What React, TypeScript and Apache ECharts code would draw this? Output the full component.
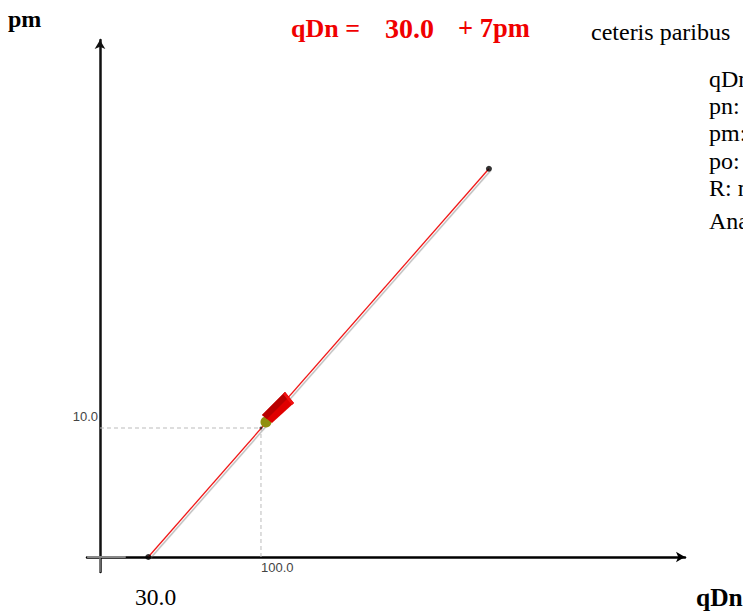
import React, { useEffect, useRef } from "react";
import * as echarts from "echarts";

const demandLine: number[][] = [[30, 0], [241.6, 30.1]];
const endPoints: number[][] = [[30, 0], [241.6, 30.1]];
const tipPoint: number[][] = [[100, 10]];
const guideH: number[][] = [[0, 10], [100, 10]];
const guideV: number[][] = [[100, 0], [100, 10]];
const markerPoint: number[][] = [[100, 10]];
const xTicks = [100];
const yTicks = [10];
const stubX: number[][] = [[-8, 0], [16, 0]];
const stubY: number[][] = [[0, -1.16], [0, 0]];
const sideLabels = ["qDn:", "pn:", "pm:", "po:", "R: n"];
const SERIF = "'Liberation Serif', serif";
const SANS = "'Liberation Sans', sans-serif";

const txt = (x: number, y: number, text: string, size: number, fill: string, weight = "normal") => ({
  type: "text", x, y,
  style: { text, fontFamily: SERIF, fontSize: size, fontWeight: weight, fill, textVerticalAlign: "middle" },
});

export default function App() {
  const ref = useRef<HTMLDivElement>(null);
  useEffect(() => {
    const chart = echarts.init(ref.current!, undefined, { renderer: "svg" });
    const thin = { color: "#888", width: 1.5 };
    const dash = { color: "#bbb", width: 1, type: [4, 3] as number[] };
    const plain = { symbol: "none", silent: true, z: 3 };
    chart.setOption({
      animation: false,
      backgroundColor: "#fff",
      grid: { left: 87, right: 58, top: 40, bottom: 39 },
      xAxis: {
        type: "value", min: -8.07, max: 363.4, splitLine: { show: false },
        axisLine: { onZero: true, symbol: ["none", "arrow"], symbolSize: [8, 9], lineStyle: { color: "#000", width: 2.5 } },
        axisTick: { show: false },
        axisLabel: {
          customValues: xTicks, formatter: (v: number) => v.toFixed(1),
          fontFamily: SANS, fontSize: 13, color: "#444", margin: -11, align: "left",
        },
      },
      yAxis: {
        type: "value", min: -1.163, max: 40.08, splitLine: { show: false },
        axisLine: { onZero: true, symbol: ["none", "arrow"], symbolSize: [8, 9], lineStyle: { color: "#111", width: 2.5 } },
        axisTick: { show: false },
        axisLabel: {
          customValues: yTicks, formatter: (v: number) => v.toFixed(1),
          fontFamily: SANS, fontSize: 13, color: "#444", margin: -11, verticalAlign: "bottom", padding: [0, 0, 5, 0],
        },
      },
      series: [
        { type: "line", data: stubX, ...plain, lineStyle: { color: "#888", width: 2 }, z: 4 },
        { type: "line", data: stubY, ...plain, lineStyle: thin, z: 4 },
        { type: "line", data: guideH, ...plain, lineStyle: dash },
        { type: "line", data: guideV, ...plain, lineStyle: dash },
        {
          type: "line", data: demandLine, ...plain, z: 5,
          lineStyle: { color: "#f01818", width: 1.3, shadowColor: "rgba(110,110,110,0.5)", shadowBlur: 1.5, shadowOffsetX: 2, shadowOffsetY: 1.5 },
        },
        {
          type: "custom", data: markerPoint, z: 6, silent: true,
          renderItem: (_p: any, api: any) => {
            const [cx, cy] = api.coord([api.value(0), api.value(1)]);
            const poly = (pts: number[][], fill: string) => ({
              type: "polygon",
              shape: { points: pts.map(([a, b]) => [cx + a, cy + b]) },
              style: { fill },
            });
            return {
              type: "group",
              children: [
                { type: "circle", shape: { cx: cx + 5, cy: cy - 6, r: 5.5 }, style: { fill: "#8f8f10" } },
                poly([[1, -13], [24, -36], [33, -25], [11, -5]], "#e00000"),
                poly([[1, -13], [24, -36], [28, -31], [6, -9]], "#b80000"),
                poly([[24, -36], [33, -25], [31, -23], [22, -34]], "#f01010"),
              ],
            };
          },
        },
        {
          type: "scatter", data: endPoints, symbol: "circle", symbolSize: 6, silent: true, z: 7,
          itemStyle: { color: "#000" },
        },
        {
          type: "scatter", data: tipPoint, symbol: "circle", symbolSize: 3, silent: true, z: 7,
          itemStyle: { color: "#222" },
        },
      ],
      graphic: [
        txt(8, 19, "pm", 24, "#000", "bold"),
        txt(291, 28, "qDn =", 26, "#f00000", "bold"),
        txt(385, 28, "30.0", 28, "#f00000", "bold"),
        txt(458, 28, "+ 7pm", 26.5, "#f00000", "bold"),
        txt(591, 32, "ceteris paribus", 24, "#000"),
        ...sideLabels.map((s, i) => txt(709, 79 + i * 27.2, s, 24, "#000")),
        txt(709, 221, "Ana", 24, "#000"),
        txt(135, 597, "30.0", 23.5, "#000"),
        txt(696, 597, "qDn", 25.5, "#000", "bold"),
      ],
    });
    return () => chart.dispose();
  }, []);
  return <div ref={ref} style={{ position: "fixed", left: 0, top: 0, width: 743, height: 611, overflow: "hidden" }} />;
}
